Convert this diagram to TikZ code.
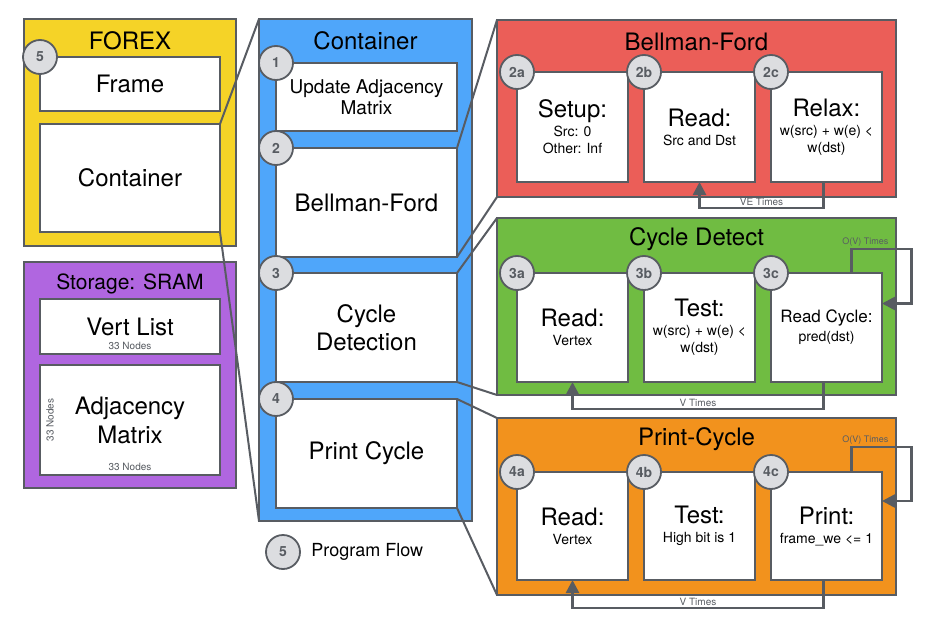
\documentclass[tikz,border=0pt]{standalone}
\usepackage{fontspec}
\setmainfont{TeX Gyre Heros}
\usetikzlibrary{arrows.meta, positioning}

\definecolor{edgegray}{HTML}{585C62}
\definecolor{badgegray}{HTML}{DCDDE0}
\definecolor{forexyellow}{HTML}{F5D327}
\definecolor{sramviolet}{HTML}{B066E0}
\definecolor{contblue}{HTML}{4FA6FA}
\definecolor{bfred}{HTML}{EB5E58}
\definecolor{cdgreen}{HTML}{70BC42}
\definecolor{pcorange}{HTML}{F2921D}

\newcommand{\px}[1]{\fontsize{#1}{#1}\selectfont}
\newcommand{\cellhead}[1]{{\fontsize{24}{27}\selectfont #1}\\[2pt]}

\begin{document}
\begin{tikzpicture}[
        x=1pt, y=-1pt,
        panel/.style={draw=edgegray, line width=2.6pt, inner sep=0pt, outer sep=0pt},
        cell/.style={draw=edgegray, fill=white, line width=2.6pt, inner sep=0pt, outer sep=0pt,
            align=center, font=\fontsize{14}{17}\selectfont},
        badge/.style={circle, draw=edgegray, fill=badgegray, line width=1.8pt, minimum size=34pt,
            inner sep=0pt, text=edgegray, font=\bfseries\px{14}},
        title/.style={font=\px{24}},
        note/.style={font=\px{10}, text=edgegray, inner sep=1pt},
        zoomline/.style={draw=edgegray, line width=2pt},
        iter/.style={draw=edgegray, line width=2.6pt, -{Triangle[width=13pt,length=13pt]}}
    ]
    \useasboundingbox (0,0) rectangle (935,626);

    % FOREX
    \node[panel, fill=forexyellow, minimum width=212, minimum height=227] (forex) at (130,132.5) {};
    \node[title] (forextitle) at ([yshift=-21.5pt]forex.north) {FOREX};
    \node[cell, minimum width=180, minimum height=54, font=\px{24}] (frame) at (130,84) {Frame};
    \node[cell, minimum width=180, minimum height=108, font=\px{24}] (fxcont) at (130,178) {Container};
    \node[badge] (b5) at (frame.north west) {5};

    % storage
    \node[panel, fill=sramviolet, minimum width=212, minimum height=226] (sram) at (130,375) {};
    \node[title, font=\px{21}] (sramtitle) at ([yshift=-21.5pt]sram.north) {Storage: SRAM};
    \node[cell, minimum width=180, minimum height=55, font=\px{24}] (vert) at (130,326.5) {Vert List};
    \node[note] (vertn) at ([yshift=8pt]vert.south) {33 Nodes};
    \node[cell, minimum width=180, minimum height=110, font=\fontsize{24}{29}\selectfont] (adj) at (130,420) {Adjacency\\Matrix};
    \node[note] (adjn) at ([yshift=8pt]adj.south) {33 Nodes};
    \node[note, rotate=90] (adjm) at ([xshift=10pt]adj.west) {33 Nodes};

    % container column
    \node[panel, fill=contblue, minimum width=213, minimum height=502] (cont) at (365.5,270) {};
    \node[title] (conttitle) at ([yshift=-21.5pt]cont.north) {Container};
    \node[cell, minimum width=181, minimum height=68, font=\fontsize{19}{21}\selectfont] (cupd) at (366.5,97) {Update Adjacency\\Matrix};
    \node[cell, minimum width=181, minimum height=109, font=\px{24}] (cbf) at (366.5,202.5) {Bellman-Ford};
    \node[cell, minimum width=181, minimum height=109, font=\fontsize{24}{28}\selectfont] (ccd) at (366.5,327.5) {Cycle\\Detection};
    \node[cell, minimum width=181, minimum height=109, font=\px{24}] (cpc) at (366.5,453.5) {Print Cycle};
    \node[badge] (b1) at (cupd.north west) {1};
    \node[badge] (b2) at (cbf.north west) {2};
    \node[badge] (b3) at (ccd.north west) {3};
    \node[badge] (b4) at (cpc.north west) {4};

    \node[badge] (legendbadge) at (283,552) {5};
    \node[font=\px{18}, right=7pt of legendbadge] (legendtxt) {Program Flow};

    % Bellman-Ford
    \node[panel, fill=bfred, minimum width=399, minimum height=177] (bf) at (696.5,108.5) {};
    \node[title] (bftitle) at ([yshift=-21.5pt]bf.north) {Bellman-Ford};
    \node[cell, minimum width=111, minimum height=110] (bf1) at (572.5,127) {\cellhead{Setup:}Src: 0\\Other: Inf};
    \node[cell, minimum width=111, minimum height=110] (bf2) at (699.5,127) {\cellhead{Read:}Src and Dst};
    \node[cell, minimum width=111, minimum height=110] (bf3) at (826.5,127) {\cellhead{Relax:}w(src) + w(e) <\\w(dst)};
    \node[badge] (b2a) at (bf1.north west) {2a};
    \node[badge] (b2b) at (bf2.north west) {2b};
    \node[badge] (b2c) at (bf3.north west) {2c};
    \draw[iter] ([xshift=-3pt]bf3.south) -- ++(0,26) -| node[note, above, pos=0.25] (bfve) {VE Times} (bf2.south);

    % cycle detect
    \node[panel, fill=cdgreen, minimum width=399, minimum height=177] (cd) at (696.5,306.5) {};
    \node[title] (cdtitle) at ([yshift=-21.5pt]cd.north) {Cycle Detect};
    \node[cell, minimum width=111, minimum height=109] (cd1) at (572.5,327.5) {\cellhead{Read:}Vertex};
    \node[cell, minimum width=111, minimum height=109] (cd2) at (699.5,327.5) {\cellhead{Test:}w(src) + w(e) <\\w(dst)};
    \node[cell, minimum width=111, minimum height=109] (cd3) at (826.5,327.5) {{\px{17}Read Cycle:}\\[2pt]pred(dst)};
    \node[badge] (b3a) at (cd1.north west) {3a};
    \node[badge] (b3b) at (cd2.north west) {3b};
    \node[badge] (b3c) at (cd3.north west) {3c};
    \draw[iter] ([xshift=-3pt]cd3.south) -- ++(0,27) -| node[note, above, pos=0.25] (cdv) {V Times} (cd1.south);
    \draw[iter] ([xshift=25pt]cd3.north) -- ++(0,-24) -- node[note, font=\px{9}, above, pos=0.23] (cdov) {O(V) Times} ++(60,0)
        |- ([yshift=24pt]cd3.east);

    % print cycle
    \node[panel, fill=pcorange, minimum width=399, minimum height=177] (pc) at (696.5,506.5) {};
    \node[title] (pctitle) at ([yshift=-21.5pt]pc.north) {Print-Cycle};
    \node[cell, minimum width=111, minimum height=108] (pc1) at (572.5,526) {\cellhead{Read:}Vertex};
    \node[cell, minimum width=111, minimum height=108] (pc2) at (699.5,526) {\cellhead{Test:}High bit is 1};
    \node[cell, minimum width=111, minimum height=108] (pc3) at (826.5,526) {\cellhead{Print:}frame\_we <= 1};
    \node[badge] (b4a) at (pc1.north west) {4a};
    \node[badge] (b4b) at (pc2.north west) {4b};
    \node[badge] (b4c) at (pc3.north west) {4c};
    \draw[iter] ([xshift=-3pt]pc3.south) -- ++(0,28) -| node[note, above, pos=0.25] (pcv) {V Times} (pc1.south);
    \draw[iter] ([xshift=25pt]pc3.north) -- ++(0,-25) -- node[note, font=\px{9}, above, pos=0.23] (pcov) {O(V) Times} ++(60,0)
        |- ([yshift=25pt]pc3.east);

    % zoom lines
    \draw[zoomline] (fxcont.north east) -- (cont.north west);
    \draw[zoomline] (fxcont.south east) -- (cont.south west);
    \foreach \s/\p in {cbf/bf, ccd/cd, cpc/pc} {
        \draw[zoomline] (\s.north east) -- (\p.north west);
        \draw[zoomline] (\s.south east) -- (\p.south west);
    }
\end{tikzpicture}
\end{document}
